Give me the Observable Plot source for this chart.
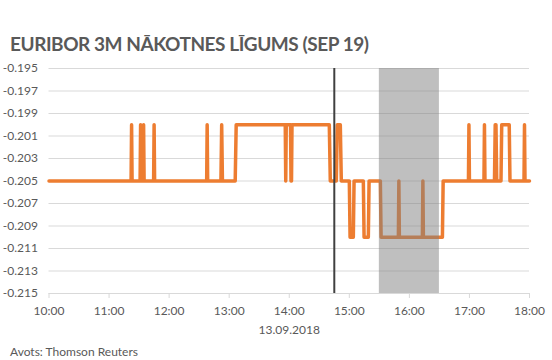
<!DOCTYPE html>
<html>
<head>
<meta charset="utf-8">
<script src="https://cdn.jsdelivr.net/npm/d3@7"></script>
<script src="https://cdn.jsdelivr.net/npm/@observablehq/plot@0.6"></script>
<style>
  html, body { margin: 0; padding: 0; background: #fff; }
  #wrap { position: relative; width: 552px; height: 360px; font-family: Lato, "Open Sans", sans-serif; color: #595959; overflow: hidden; }
  #title { position: absolute; left: 0; top: 0; width: 552px; height: 60px; }
  #title span { position: absolute; left: 10px; top: 34px; font-size: 19px; font-weight: 700; line-height: 20px; white-space: nowrap; letter-spacing: -0.45px; }
  #chart { position: absolute; left: 0; top: 60px; width: 552px; height: 280px; }
  #caption { position: absolute; left: 10px; top: 344px; font-size: 12px; line-height: 16px; white-space: nowrap; }
</style>
</head>
<body>
<div id="wrap">
  <div id="title"><span>EURIBOR 3M NĀKOTNES LĪGUMS (SEP 19)</span></div>
  <div id="chart"></div>
  <div id="caption">Avots: Thomson Reuters</div>
</div>
<script>
// ---- data ----
const times = [
  "10:00:00",
  "11:22:00","11:22:30","11:23:00",
  "11:31:00","11:31:30","11:32:00",
  "11:34:00","11:34:30","11:35:00",
  "11:44:30","11:45:00","11:45:30",
  "12:37:30","12:38:00","12:38:30",
  "12:51:45","12:52:30","12:53:15",
  "13:06:00","13:07:00",
  "13:56:00","13:56:30","13:57:00",
  "14:01:15","14:01:45","14:02:15","14:02:45",
  "14:40:00","14:41:00",
  "14:47:00","14:48:00",
  "14:51:00","14:52:00",
  "15:00:00","15:00:45",
  "15:04:00","15:04:45",
  "15:14:00","15:14:45",
  "15:19:00","15:19:45",
  "15:31:00","15:31:45",
  "15:49:00","15:49:30","15:50:00",
  "16:13:00","16:13:30","16:14:00",
  "16:33:00","16:33:45",
  "16:59:00","16:59:30","17:00:00",
  "17:14:30","17:15:00","17:15:30",
  "17:25:00","17:25:45","17:26:30","17:27:15",
  "17:31:30","17:32:15",
  "17:39:45","17:40:30",
  "17:54:30","17:55:00","17:55:30",
  "18:00:00"
];
const values = [
  -0.205,
  -0.205,-0.200,-0.205,
  -0.205,-0.200,-0.205,
  -0.205,-0.200,-0.205,
  -0.205,-0.200,-0.205,
  -0.205,-0.200,-0.205,
  -0.205,-0.200,-0.205,
  -0.205,-0.200,
  -0.200,-0.205,-0.200,
  -0.200,-0.205,-0.205,-0.200,
  -0.200,-0.205,
  -0.205,-0.200,
  -0.200,-0.205,
  -0.205,-0.210,
  -0.210,-0.205,
  -0.205,-0.210,
  -0.210,-0.205,
  -0.205,-0.210,
  -0.210,-0.205,-0.210,
  -0.210,-0.205,-0.210,
  -0.210,-0.205,
  -0.205,-0.200,-0.205,
  -0.205,-0.200,-0.205,
  -0.205,-0.200,-0.200,-0.205,
  -0.205,-0.200,
  -0.200,-0.205,
  -0.205,-0.200,-0.205,
  -0.205
];
const xTickLabels = ["10:00","11:00","12:00","13:00","14:00","15:00","16:00","17:00","18:00"];
const yTickValues = [-0.195,-0.197,-0.199,-0.201,-0.203,-0.205,-0.207,-0.209,-0.211,-0.213,-0.215];
const eventTime = "14:45";
const bandTimes = ["15:30","16:30"];
const dateLabel = "13.09.2018";

// ---- build ----
const parseT = d3.timeParse("%H:%M:%S");
const parseHM = d3.timeParse("%H:%M");
const points = times.map((t, i) => ({t: parseT(t), v: values[i]}));
const xTicks = xTickLabels.map(parseHM);
const band = [{x1: parseHM(bandTimes[0]), x2: parseHM(bandTimes[1])}];

const chart = Plot.plot({
  width: 552,
  height: 280,
  marginLeft: 48.5,
  marginRight: 23,
  marginTop: 8,
  marginBottom: 47,
  style: {fontFamily: "Lato, 'Open Sans', sans-serif", fontSize: "12px", color: "#595959", background: "#fff", overflow: "visible"},
  x: {type: "time", domain: [xTicks[0], xTicks[xTicks.length - 1]]},
  y: {domain: [yTickValues[yTickValues.length - 1], yTickValues[0]]},
  marks: [
    Plot.ruleY(yTickValues, {stroke: "#d9d9d9", strokeWidth: 1}),
    Plot.axisY({ticks: yTickValues, tickSize: 0, tickPadding: 11, tickFormat: d => d.toFixed(3), label: null, fill: "#595959"}),
    Plot.axisX({ticks: xTicks, tickSize: 5, tickPadding: 8, tickFormat: d3.timeFormat("%H:%M"), label: null, stroke: "#d9d9d9", fill: "#595959"}),
    Plot.line(points, {x: "t", y: "v", stroke: "#ED7D31", strokeWidth: 3.5, strokeLinejoin: "round", strokeLinecap: "round"}),
    Plot.rect(band, {x1: "x1", x2: "x2", fill: "#7f7f7f", fillOpacity: 0.5}),
    Plot.ruleX([parseHM(eventTime)], {stroke: "#404040", strokeWidth: 2}),
    Plot.text([dateLabel], {frameAnchor: "bottom", dy: 40, text: d => d, fill: "#595959", fontSize: 12})
  ]
});
document.getElementById("chart").appendChild(chart);
</script>
</body>
</html>
